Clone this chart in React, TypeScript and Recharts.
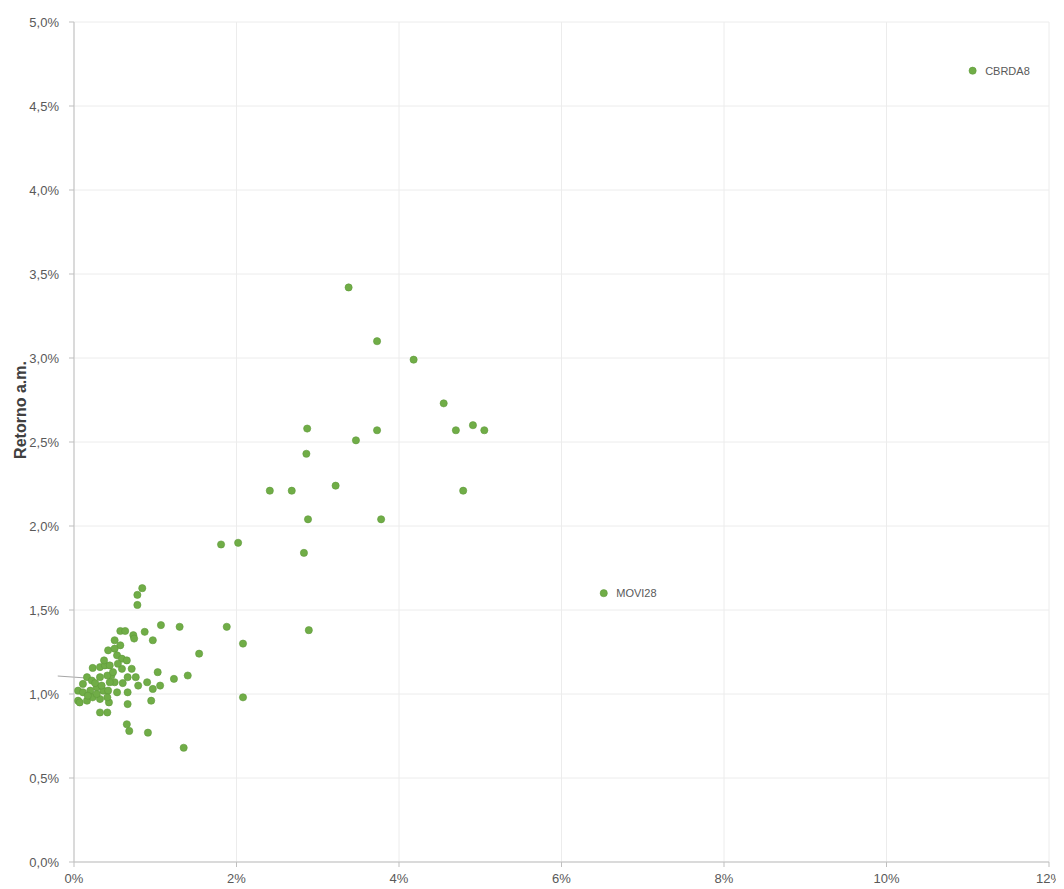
import React from 'react'
import {
  ScatterChart,
  Scatter,
  XAxis,
  YAxis,
  CartesianGrid,
  ReferenceLine,
  LabelList,
} from 'recharts'

// risco (x, % a.m.) e retorno (y, % a.m.) de cada papel
const riskValues = [
  11.06, 6.52, 3.38, 3.73, 4.18, 4.55, 4.91, 4.70, 5.05, 2.87,
  3.73, 3.47, 2.86, 2.41, 2.68, 3.22, 4.79, 2.88, 3.78, 1.81,
  2.02, 2.83, 2.89, 0.84, 0.78, 0.78, 1.07, 1.30, 1.88, 2.08,
  1.54, 1.40, 1.23, 1.03, 1.06, 2.08, 1.35, 0.91, 0.65, 0.68,
  0.32, 0.41, 0.43, 0.66, 0.66, 0.95, 0.97, 0.79, 0.90, 0.87,
  0.97, 0.73, 0.74, 0.57, 0.63, 0.50, 0.57, 0.42, 0.50, 0.53,
  0.59, 0.65, 0.59, 0.71, 0.66, 0.76, 0.50, 0.46, 0.23, 0.32,
  0.38, 0.44, 0.16, 0.22, 0.32, 0.41, 0.44, 0.60, 0.05, 0.11,
  0.20, 0.28, 0.36, 0.42, 0.53, 0.05, 0.16, 0.23, 0.32, 0.41,
  0.07, 0.11, 0.26, 0.34, 0.17, 0.28, 0.48, 0.54, 0.37,
]
const returnValues = [
  4.71, 1.60, 3.42, 3.10, 2.99, 2.73, 2.60, 2.57, 2.57, 2.58,
  2.57, 2.51, 2.43, 2.21, 2.21, 2.24, 2.21, 2.04, 2.04, 1.89,
  1.90, 1.84, 1.38, 1.63, 1.59, 1.53, 1.41, 1.40, 1.40, 1.30,
  1.24, 1.11, 1.09, 1.13, 1.05, 0.98, 0.68, 0.77, 0.82, 0.78,
  0.89, 0.89, 0.95, 0.94, 1.01, 0.96, 1.03, 1.05, 1.07, 1.37,
  1.32, 1.35, 1.33, 1.375, 1.375, 1.32, 1.29, 1.26, 1.27, 1.23,
  1.21, 1.20, 1.15, 1.15, 1.10, 1.10, 1.07, 1.11, 1.155, 1.16,
  1.17, 1.17, 1.10, 1.08, 1.10, 1.11, 1.07, 1.065, 1.02, 1.01,
  1.02, 1.04, 1.02, 1.02, 1.01, 0.96, 0.96, 0.98, 0.97, 0.98,
  0.95, 1.06, 1.065, 1.05, 0.99, 1.00, 1.13, 1.18, 1.20,
]
const pointNames = ['CBRDA8', 'MOVI28']

const xTicks = [0, 2, 4, 6, 8, 10, 12]
const yTicks = [0, 0.5, 1, 1.5, 2, 2.5, 3, 3.5, 4, 4.5, 5]

// pequena linha cinza perto do eixo
const leaderX = [-0.2, 0.16]
const leaderY = [1.107, 1.095]

const data = riskValues.map((x, i) => ({
  x,
  y: returnValues[i],
  name: pointNames[i] ?? '',
}))

const GREEN = '#70ad47'
const FONT = 'Liberation Sans, Arial, sans-serif'
const TICK = { fontSize: 13, fill: '#595959', fontFamily: FONT }

const Dot = (props: any) => (
  <circle cx={props.cx} cy={props.cy} r={3.6} fill={GREEN} stroke="#5f9a3a" strokeWidth={0.6} />
)

// titulo do eixo Y, um pouco acima do centro como no original
const YTitle = (props: any) => {
  const vb = props.viewBox
  const x = 12
  const y = vb.y + vb.height / 2 - 32
  return (
    <text
      x={x}
      y={y}
      transform={`rotate(-90, ${x}, ${y})`}
      textAnchor="middle"
      dominantBaseline="central"
      fontSize={16}
      fontWeight="bold"
      fill="#404040"
      fontFamily={FONT}
    >
      Retorno a.m.
    </text>
  )
}

export default function App() {
  return (
    <ScatterChart width={1056} height={881} margin={{ top: 14, right: 15, bottom: 7, left: 4 }}>
      <CartesianGrid stroke="#ececec" />
      <XAxis
        type="number"
        dataKey="x"
        domain={[0, 12]}
        ticks={xTicks}
        tickFormatter={(v) => `${v}%`}
        tick={TICK}
        tickSize={5}
        tickMargin={7}
        height={20}
        stroke="#bfbfbf"
        interval={0}
      />
      <YAxis
        type="number"
        dataKey="y"
        domain={[0, 5]}
        ticks={yTicks}
        tickFormatter={(v) => `${v.toFixed(1).replace('.', ',')}%`}
        tick={TICK}
        tickSize={5}
        tickMargin={10}
        width={62}
        stroke="#bfbfbf"
        interval={0}
        label={<YTitle />}
      />
      <ReferenceLine
        segment={[
          { x: leaderX[0], y: leaderY[0] },
          { x: leaderX[1], y: leaderY[1] },
        ]}
        stroke="#a6a6a6"
        ifOverflow="visible"
      />
      <Scatter data={data} shape={<Dot />} isAnimationActive={false}>
        <LabelList
          dataKey="name"
          position="right"
          offset={8}
          style={{ fontSize: 11, fill: '#595959', fontFamily: FONT }}
        />
      </Scatter>
    </ScatterChart>
  )
}
